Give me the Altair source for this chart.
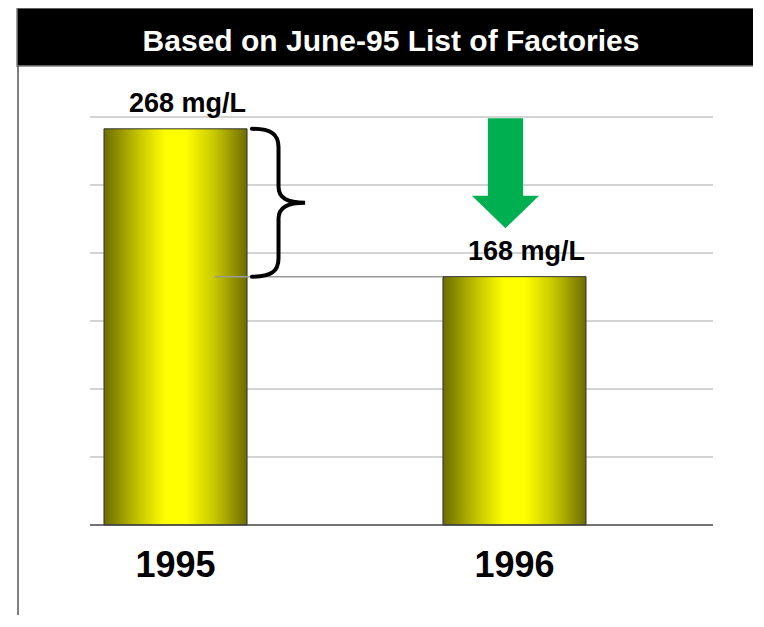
import altair as alt
import pandas as pd

# ---- data ----
years = ["1995", "1996"]
values = [268, 168]
unit = "mg/L"
title_text = "Based on June-95 List of Factories"
y_max = 276
grid_step = 46
arrow_value = [238]          # annotation: arrow centre (data units)

W, H = 623, 408
px_per_unit = H / y_max

df = pd.DataFrame({"year": years, "value": values,
                   "label": [f"{v} {unit}" for v in values]})
one = pd.DataFrame({"a": [0]})

xscale = alt.Scale(range=[0, 510], paddingInner=0.578, paddingOuter=0.0413)
yscale = alt.Scale(domain=[0, y_max], nice=False)
grid_values = list(range(grid_step, y_max + 1, grid_step))

x_enc = alt.X("year:N", scale=xscale, sort=years, title=None,
              axis=alt.Axis(title=None, labelAngle=0, labelFontSize=36,
                            labelFont="Liberation Sans", labelFontWeight="bold",
                            labelColor="black", labelPadding=23,
                            ticks=False, domain=False, grid=False))
y_enc = alt.Y("value:Q", scale=yscale, title=None, axis=None)


def xx():
    return alt.X("year:N", scale=xscale, sort=years, title=None)


def yy():
    return alt.Y("value:Q", scale=yscale, title=None)


# gridlines across the full plot width
grid = alt.Chart(pd.DataFrame({"value": grid_values})).mark_rule(
    color="#c4c4c4", strokeWidth=1.5).encode(
    y=yy(), x=alt.value(0), x2=alt.value(W))

# header band
header = alt.Chart(one).mark_rect(color="black", stroke="#808080", strokeWidth=1.5).encode(
    x=alt.value(-73), x2=alt.value(700), y=alt.value(-109), y2=alt.value(-51))
header_txt = alt.Chart(one).mark_text(
    text=title_text, color="white", fontSize=30, fontWeight="bold",
    font="Liberation Sans", align="center", baseline="alphabetic").encode(
    x=alt.value(301), y=alt.value(-66))
left_line = alt.Chart(one).mark_rule(color="#555555", strokeWidth=1.5).encode(
    x=alt.value(-72), y=alt.value(-51), y2=alt.value(520))

bars = alt.Chart(df).mark_bar(
    stroke="#333333", strokeWidth=1,
    color=alt.Gradient(gradient="linear", x1=0, x2=1, y1=0, y2=0,
                       stops=[alt.GradientStop(color="#6c6c00", offset=0),
                              alt.GradientStop(color="#c8c800", offset=0.25),
                              alt.GradientStop(color="#ffff00", offset=0.43),
                              alt.GradientStop(color="#ffff00", offset=0.57),
                              alt.GradientStop(color="#c8c800", offset=0.77),
                              alt.GradientStop(color="#6c6c00", offset=1)])
).encode(x=x_enc, y=y_enc)

ref_rule = alt.Chart(pd.DataFrame({"value": [values[1]]})).mark_rule(
    color="#9a9a9a", strokeWidth=1.5).encode(
    y=yy(), x=alt.value(125), x2=alt.value(353))

base_rule = alt.Chart(pd.DataFrame({"value": [0]})).mark_rule(
    color="#444444", strokeWidth=1.5).encode(
    y=yy(), x=alt.value(0), x2=alt.value(W))

labels = alt.Chart(df).mark_text(
    dy=-17, dx=12, baseline="alphabetic", fontSize=27, fontWeight="bold",
    font="Liberation Sans", color="black").encode(
    x=xx(), y=yy(), text="label:N")

# brace between the two levels, beside the 1995 bar
brace_px = (values[0] - values[1]) * px_per_unit
brace_path = ("M -0.36 -1 C -0.1 -1 0 -0.93 0 -0.75 L 0 -0.22 C 0 -0.06 0.12 0 0.36 0 "
              "C 0.12 0 0 0.06 0 0.22 L 0 0.75 C 0 0.93 -0.1 1 -0.36 1")
brace_df = pd.DataFrame({"year": [years[0]], "value": [(values[0] + values[1]) / 2]})
brace = alt.Chart(brace_df).mark_point(
    shape=brace_path, size=brace_px ** 2, filled=False, stroke="black",
    strokeWidth=4, opacity=1, xOffset=103, strokeCap="round").encode(
    x=xx(), y=yy())

arrow_path = ("M -0.32 -1 L 0.32 -1 L 0.32 0.41 L 0.61 0.41 L 0 1 "
              "L -0.61 0.41 L -0.32 0.41 Z")
arrow_df = pd.DataFrame({"year": [years[1]], "value": arrow_value})
arrow = alt.Chart(arrow_df).mark_point(
    shape=arrow_path, size=110 ** 2, filled=True, color="#00b050",
    opacity=1, strokeWidth=0, xOffset=-9).encode(
    x=xx(), y=yy())

chart = alt.layer(grid, bars, header, header_txt, left_line, ref_rule, base_rule,
                  labels, brace, arrow).properties(
    width=W, height=H,
    padding={"left": 82, "top": 109, "right": 40, "bottom": 90},
    autosize=alt.AutoSizeParams(type="none"),
    background="white",
).configure_view(strokeWidth=0)

chart.save("out.html", embed_options={"renderer": "svg", "actions": False})
